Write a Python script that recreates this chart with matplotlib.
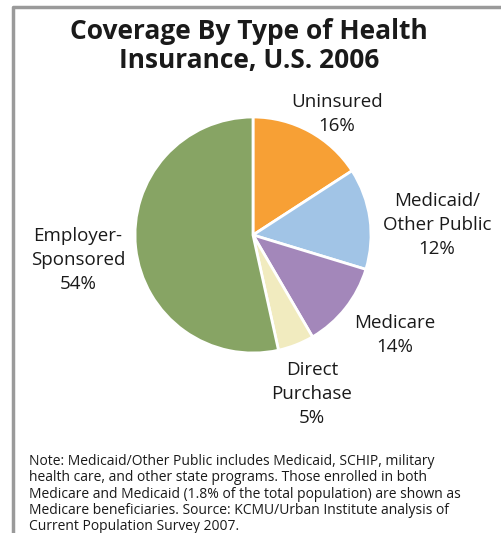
import matplotlib.pyplot as plt
from matplotlib.lines import Line2D

# data (slice sizes as drawn; the printed labels in the source are as shown)
categories = ["Uninsured", "Medicaid/\nOther Public", "Medicare", "Direct\nPurchase", "Employer-\nSponsored"]
sizes = [16, 14, 12, 5, 54]
pct_labels = ["16%", "12%", "14%", "5%", "54%"]
colors = ["#F7A035", "#A1C4E6", "#A387BA", "#F1EBBF", "#87A464"]

title = "Coverage By Type of Health\nInsurance, U.S. 2006"
note = ("Note: Medicaid/Other Public includes Medicaid, SCHIP, military\n"
        "health care, and other state programs. Those enrolled in both\n"
        "Medicare and Medicaid (1.8% of the total population) are shown as\n"
        "Medicare beneficiaries. Source: KCMU/Urban Institute analysis of\n"
        "Current Population Survey 2007.")

plt.rcParams['font.family'] = ['Open Sans', 'DejaVu Sans']

W, H = 501, 533
fig = plt.figure(figsize=(W / 100, H / 100), dpi=100)
ax = fig.add_axes([0, 0, 1, 1])
ax.set_xlim(0, W)
ax.set_ylim(0, H)
ax.set_aspect('equal')
ax.axis('off')

# frame lines (left + top)
ax.add_line(Line2D([13, 13, W], [0, H - 7, H - 7], color="#9a9a9a", lw=2.5))

ax.text(249, H - 46, title, ha='center', va='center', fontsize=19,
        fontweight='bold', color="#1a1a1a", linespacing=1.08)

ax.pie(sizes, colors=colors, startangle=90, counterclock=False,
       center=(253, H - 235), radius=118,
       wedgeprops=dict(edgecolor='white', linewidth=2))
ax.set_xlim(0, W)
ax.set_ylim(0, H)

# label positions (pixel centers of text block)
label_pos = [(337, 114), (437, 225), (395, 335), (312, 394), (78, 260)]
for cat, pct, (x, y) in zip(categories, pct_labels, label_pos):
    ax.text(x, H - y, cat + "\n" + pct, ha='center', va='center',
            fontsize=13.5, color="#1a1a1a", linespacing=1.42)

ax.text(29, H - 494, note, ha='left', va='center', fontsize=10,
        color="#1a1a1a", linespacing=1.13)

fig.savefig("out.png", dpi=100)
